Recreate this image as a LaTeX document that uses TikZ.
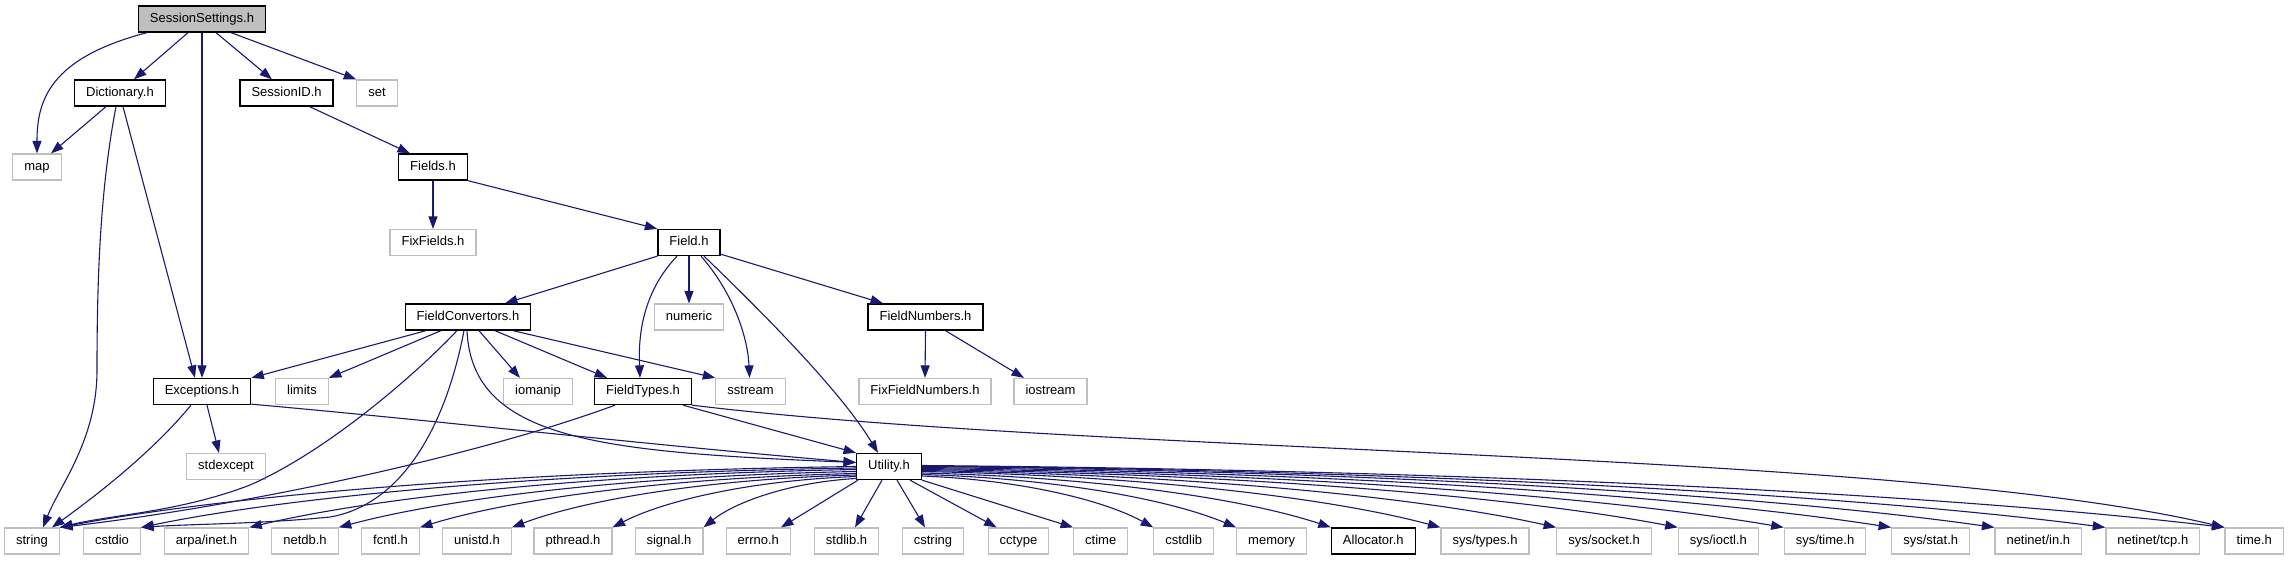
\documentclass[tikz,border=0pt]{standalone}
\usepackage{fontspec}
\setmainfont{Liberation Sans}
\usetikzlibrary{arrows.meta,calc}
\definecolor{sysgray}{HTML}{BFBFBF}
\definecolor{edgeblue}{HTML}{191970}
\tikzset{
  base/.style={draw, rectangle, minimum height=26pt, inner xsep=11.5pt, inner ysep=0pt,
    text height=9.3pt, text depth=2.8pt, font=\fontsize{13pt}{15pt}\selectfont},
  hdr/.style={base, draw=black, line width=1.3pt},
  sys/.style={base, draw=sysgray, line width=1.2pt},
  root/.style={hdr, fill=sysgray},
  dep/.style={draw=edgeblue, line width=1.1pt, -{Triangle[length=12.5pt,width=9pt]}},
}
\newcommand\ulink[2]{%
  \path (#1) coordinate (cS) (#2) coordinate (cT);
  \path ($(cS)!.45!(cT)$) coordinate (cA) ($(cS)!.08!(cT)$) coordinate (cB)
        ($(cS)!.8!(cT)$) coordinate (cC) ($(cS)!.5!(cT)$) coordinate (cD);
  \draw[dep] (cS) .. controls (cA |- cB) and (cC |- cD) .. (cT);}
\begin{document}
\begin{tikzpicture}[x=1pt,y=-1pt]
\useasboundingbox (0,0) rectangle (2289,560);
% nodes
\node[root] (SS) at (202,19) {SessionSettings.h};
\node[hdr] (Dict) at (120,93) {Dictionary.h};
\node[hdr] (SID) at (286.6,93) {SessionID.h};
\node[sys] (set) at (377,93) {set};
\node[sys] (map) at (37,167) {map};
\node[hdr] (Fields) at (433,167) {Fields.h};
\node[sys] (FixFields) at (433,242.5) {FixFields.h};
\node[hdr] (Field) at (689,242.5) {Field.h};
\node[hdr] (FC) at (468,317) {FieldConvertors.h};
\node[sys] (numeric) at (689,317) {numeric};
\node[hdr] (FN) at (925.5,317) {FieldNumbers.h};
\node[hdr] (Exc) at (202,391.5) {Exceptions.h};
\node[sys] (limits) at (302,391.5) {limits};
\node[sys] (iomanip) at (538,391.5) {iomanip};
\node[hdr] (FT) at (643,391.5) {FieldTypes.h};
\node[sys] (sstream) at (750.5,391.5) {sstream};
\node[sys] (FixFN) at (925,391.5) {FixFieldNumbers.h};
\node[sys] (iostream) at (1050.5,391.5) {iostream};
\node[sys] (stdexcept) at (226,466.5) {stdexcept};
\node[hdr] (U) at (889,466.5) {Utility.h};
\node[sys] (string) at (32,541) {string};
\node[sys] (cstdio) at (112,541) {cstdio};
\node[sys] (arpa) at (206.5,541) {arpa/inet.h};
\node[sys] (netdb) at (305,541) {netdb.h};
\node[sys] (fcntl) at (390.5,541) {fcntl.h};
\node[sys] (unistd) at (477,541) {unistd.h};
\node[sys] (pthread) at (573,541) {pthread.h};
\node[sys] (signal) at (669,541) {signal.h};
\node[sys] (errno) at (758.3,541) {errno.h};
\node[sys] (stdlib) at (846.5,541) {stdlib.h};
\node[sys] (cstring) at (933,541) {cstring};
\node[sys] (cctype) at (1018.5,541) {cctype};
\node[sys] (ctime) at (1100.7,541) {ctime};
\node[sys] (cstdlib) at (1183.7,541) {cstdlib};
\node[sys] (memory) at (1271.7,541) {memory};
\node[hdr] (alloc) at (1373.3,541) {Allocator.h};
\node[sys] (systypes) at (1485,541) {sys/types.h};
\node[sys] (syssocket) at (1604,541) {sys/socket.h};
\node[sys] (sysioctl) at (1718.3,541) {sys/ioctl.h};
\node[sys] (systime) at (1825,541) {sys/time.h};
\node[sys] (sysstat) at (1930.7,541) {sys/stat.h};
\node[sys] (netin) at (2038.3,541) {netinet/in.h};
\node[sys] (nettcp) at (2152.8,541) {netinet/tcp.h};
\node[sys] (timeh) at (2254.2,541) {time.h};
% SessionSettings.h
\draw[dep] ([xshift=-55]SS.south) .. controls (50,58) and (37,100) .. (map.north);
\draw[dep] ([xshift=-14]SS.south) -- ([xshift=14]Dict.north);
\draw[dep] (SS.south) -- (Exc.north);
\draw[dep] ([xshift=14]SS.south) -- ([xshift=-14.6]SID.north);
\draw[dep] ([xshift=29]SS.south) -- (set.north west);
% Dictionary.h
\draw[dep] ([xshift=-14]Dict.south) -- ([xshift=14]map.north);
\draw[dep] ([xshift=-4]Dict.south) .. controls (100,190) and (97,280) .. (97,370)
  .. controls (97,440) and (60,485) .. ([xshift=11]string.north);
\draw[dep] ([xshift=3]Dict.south) -- ([xshift=-7]Exc.north);
% SessionID.h, Fields.h
\draw[dep] ([xshift=23]SID.south) -- ([xshift=-23]Fields.north);
\draw[dep] (Fields.south) -- (FixFields.north);
\draw[dep] (Fields.south east) -- (Field.north west);
% Field.h
\draw[dep] (Field.south west) -- ([xshift=37]FC.north);
\draw[dep] ([xshift=-12]Field.south) .. controls (645,290) and (638,330) .. ([xshift=-3]FT.north);
\draw[dep] (Field.south) -- (numeric.north);
\draw[dep] ([xshift=12]Field.south) .. controls (735,295) and (748,340) .. ([xshift=-1]sstream.north);
\draw[dep] ([xshift=15]Field.south) .. controls (760,310) and (840,390) .. ([xshift=-11]U.north);
\draw[dep] ([yshift=2]Field.south east) -- ([xshift=-42.5]FN.north);
% FieldNumbers.h
\draw[dep] (FN.south) -- (FixFN.north);
\draw[dep] ([xshift=20]FN.south) -- ([xshift=-26.5]iostream.north);
% FieldConvertors.h
\draw[dep] ([xshift=-42]FC.south) -- (Exc.north east);
\draw[dep] ([xshift=-27]FC.south) -- (limits.north east);
\draw[dep] ([xshift=-11]FC.south) .. controls (420,370) and (330,450) .. (250,485)
  .. controls (180,512) and (110,515) .. (string.north east);
\draw[dep] ([xshift=-4]FC.south) .. controls (445,430) and (400,505) .. (330,517)
  .. controls (260,524) and (190,524) .. (cstdio.north east);
\draw[dep] ([xshift=-1]FC.south) .. controls (472,440) and (600,452) .. ([yshift=4]U.west);
\draw[dep] ([xshift=11]FC.south) -- ([xshift=-18]iomanip.north);
\draw[dep] ([xshift=27]FC.south) -- ([xshift=-36]FT.north);
\draw[dep] ([xshift=45]FC.south) -- (sstream.north west);
% Exceptions.h
\draw[dep] ([xshift=-11]Exc.south) .. controls (150,455) and (90,500) .. ([xshift=20]string.north);
\draw[dep] ([xshift=5]Exc.south) -- ([xshift=-7]stdexcept.north);
\draw[dep] ([yshift=1]Exc.south east) .. controls (450,422) and (650,445) .. ([yshift=4]U.west);
% FieldTypes.h
\draw[dep] ([xshift=-28]FT.south) .. controls (480,455) and (250,505) .. (string.north east);
\draw[dep] ([xshift=40]FT.south) -- (U.north west);
\draw[dep] (FT.south east) .. controls (1100,455) and (1900,450) .. (timeh.north west);
% Utility.h, left side
\ulink{U.west}{string.north east}
\ulink{[yshift=-1.5pt]U.west}{cstdio.north east}
\ulink{[yshift=-3pt]U.west}{arpa.north east}
\ulink{[yshift=-5pt]U.west}{netdb.north east}
\ulink{[yshift=-7pt]U.west}{fcntl.north east}
\ulink{[yshift=-8.5pt]U.west}{unistd.north east}
\ulink{[yshift=-10pt]U.west}{pthread.north east}
\ulink{[yshift=-12pt]U.west}{signal.north east}
% Utility.h, below
\draw[dep] ([xshift=2]U.south west) -- ([xshift=-10]errno.north east);
\draw[dep] ([xshift=-7]U.south) -- ([xshift=8.5]stdlib.north);
\draw[dep] ([xshift=8]U.south) -- ([xshift=-8]cstring.north);
\draw[dep] ([xshift=21]U.south) -- ([xshift=9]cctype.north west);
\draw[dep] (U.south east) -- (ctime.north west);
% Utility.h, right side
\ulink{[yshift=-9.5pt]U.east}{cstdlib.north west}
\ulink{[yshift=-8pt]U.east}{memory.north west}
\ulink{[yshift=-6.5pt]U.east}{alloc.north west}
\ulink{[yshift=-5pt]U.east}{systypes.north west}
\ulink{[yshift=-4pt]U.east}{syssocket.north west}
\ulink{[yshift=-3pt]U.east}{sysioctl.north west}
\ulink{[yshift=-2pt]U.east}{systime.north west}
\ulink{[yshift=-1pt]U.east}{sysstat.north west}
\ulink{U.east}{netin.north west}
\ulink{[yshift=0.5pt]U.east}{nettcp.north west}
\ulink{[yshift=1pt]U.east}{timeh.north west}
\end{tikzpicture}
\end{document}
